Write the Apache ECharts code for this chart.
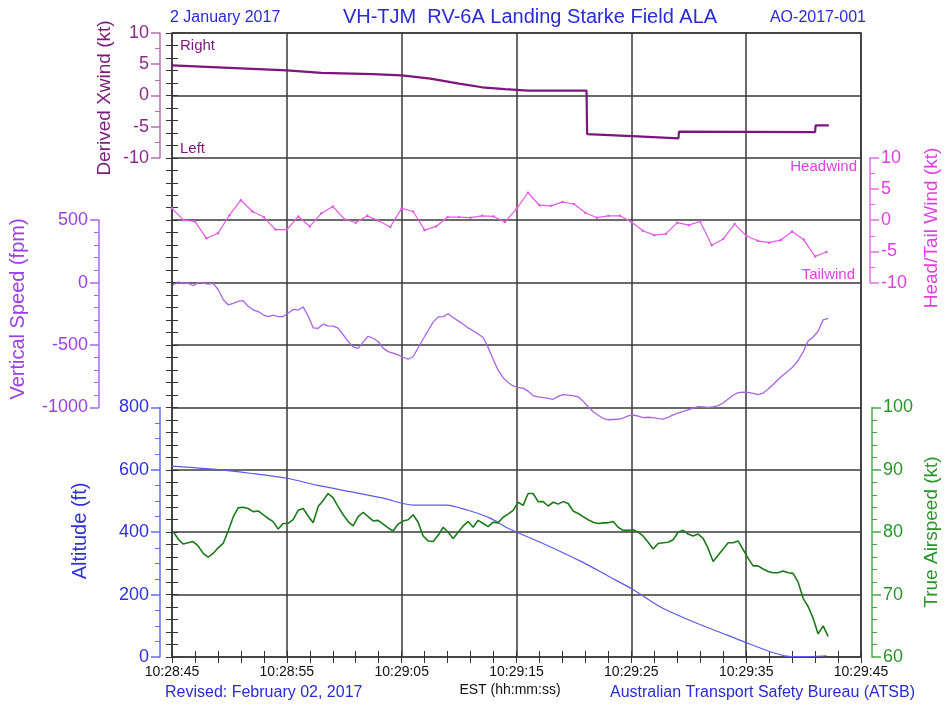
<!DOCTYPE html>
<html>
<head>
<meta charset="utf-8">
<title>VH-TJM RV-6A Landing Starke Field ALA</title>
<script src="https://cdn.jsdelivr.net/npm/echarts@6/dist/echarts.min.js"></script>
<style>html,body{margin:0;padding:0;background:#fff}</style>
</head>
<body>
<div id="main" style="width:947px;height:707px"></div>
<script>
// time is seconds after 10:28:45
var timeLabels = ['10:28:45', '10:28:55', '10:29:05', '10:29:15', '10:29:25', '10:29:35', '10:29:45'];

// derived crosswind (kt), + = right
var xwindT = [0, 5, 10, 13, 17.5, 20, 22.5, 25, 27, 29, 31, 36.1, 36.15, 41, 44.1, 44.15, 56, 56.05, 57.2];
var xwindV = [4.8, 4.4, 4.0, 3.6, 3.4, 3.2, 2.7, 1.9, 1.3, 1.0, 0.75, 0.75, -6.2, -6.6, -6.9, -5.8, -5.9, -4.8, -4.8];

// head/tail wind (kt), one value per second from t=0
var headwindV = [1.9, 0, -0.2, -2.9, -2.1, 0.8, 3.2, 1.4, 0.5, -1.5,
  -1.5, 0.6, -1.0, 1.1, 2.2, 0.2, -0.4, 0.7, -0.1, -1.1,
  1.9, 1.4, -1.6, -1.0, 0.5, 0.5, 0.4, 0.7, 0.6, -0.3,
  1.8, 4.4, 2.4, 2.3, 2.9, 2.6, 1.2, 0.4, 0.7, 0.7,
  -0.3, -1.7, -2.4, -2.2, -0.4, -0.8, -0.2, -4.0, -3.0, -0.6,
  -2.5, -3.3, -3.6, -3.2, -1.8, -3.1, -5.8, -5.1];

// vertical speed (fpm) and true airspeed (kt), sampled every 0.4354 s from t=0.1
var sampleStart = 0.1, sampleStep = 0.4354;
var vsV = [-19, 5, -8, -5, -25, 0, -5, -12, -6, -55,
  -135, -178, -166, -150, -145, -190, -218, -232, -258, -272,
  -260, -272, -272, -243, -215, -220, -195, -268, -362, -366,
  -333, -347, -348, -365, -418, -471, -516, -527, -477, -430,
  -446, -472, -525, -553, -566, -579, -598, -614, -594, -522,
  -452, -384, -317, -275, -273, -250, -280, -307, -334, -363,
  -386, -412, -440, -520, -614, -702, -762, -800, -828, -840,
  -846, -870, -905, -916, -922, -927, -935, -912, -897, -901,
  -906, -915, -950, -995, -1035, -1063, -1087, -1099, -1097, -1095,
  -1085, -1068, -1061, -1069, -1082, -1079, -1082, -1090, -1094, -1080,
  -1060, -1045, -1031, -1020, -1005, -993, -995, -999, -996, -986,
  -965, -933, -903, -882, -877, -879, -887, -898, -885, -853,
  -817, -776, -740, -708, -674, -624, -555, -468, -436, -390,
  -298, -286];
var tasV = [80.1, 78.9, 78.1, 78.3, 78.5, 77.8, 76.6, 76.0, 76.6, 77.5,
  78.2, 80.2, 82.4, 83.9, 84.0, 83.8, 83.3, 83.4, 82.8, 82.2,
  81.7, 80.5, 81.4, 81.4, 82.0, 83.5, 83.8, 82.6, 81.5, 84.1,
  85.1, 86.2, 85.5, 84.1, 82.8, 81.7, 81.0, 82.5, 83.2, 82.5,
  81.8, 81.9, 81.3, 80.7, 80.2, 81.3, 81.8, 82.0, 82.8, 81.6,
  79.4, 78.6, 78.5, 79.5, 80.8, 80.0, 79.0, 80.0, 81.0, 81.7,
  80.8, 81.9, 81.4, 80.9, 81.6, 81.5, 82.4, 82.9, 83.5, 84.8,
  84.3, 86.2, 86.2, 84.9, 84.9, 84.2, 84.8, 84.5, 84.9, 84.6,
  83.4, 83.0, 82.5, 82.0, 81.6, 81.4, 81.5, 81.5, 81.7, 80.8,
  80.3, 80.3, 80.4, 80.0, 79.4, 78.4, 77.3, 78.2, 78.3, 78.4,
  78.8, 80.0, 80.3, 79.7, 79.4, 79.7, 79.0, 77.4, 75.3, 76.3,
  77.3, 78.3, 78.3, 78.6, 77.2, 75.8, 74.6, 74.6, 74.1, 73.7,
  73.5, 73.5, 73.8, 73.5, 73.4, 72.0, 69.4, 68.1, 66.2, 63.7,
  65.0, 63.3];

// altitude (ft)
var altT = [0, 3.6, 6.8, 10, 12.6, 15.5, 18.4, 21, 23.9, 25.7, 27.7, 29.4, 32.3, 35.7, 38.1, 40.2, 42.5, 45.7, 48.3, 50, 52.1, 53.5, 54.7, 57];
var altV = [612, 602, 589, 573, 551, 530, 509, 487, 487, 471, 445, 410, 364, 305, 257, 215, 161, 108, 71, 46, 17, 3, 1, 4];

function pairs(ts, vs) {
    return vs.map(function (v, i) { return [ts[i], v]; });
}
function sampled(vs) {
    return vs.map(function (v, i) { return [sampleStart + i * sampleStep, v]; });
}

var FONT = '"Liberation Sans", Arial, sans-serif';
var L = 172, R = 86;

function sideAxis(grid, pos, offset, min, max, step, minor, lineColor, labelColor) {
    return {
        gridIndex: grid, type: 'value', position: pos, offset: offset,
        min: min, max: max, interval: step,
        axisLine: {show: true, onZero: false, lineStyle: {color: lineColor, width: 1.5}},
        axisTick: {show: true, length: 9, lineStyle: {color: lineColor, width: 1.5}},
        minorTick: {show: true, splitNumber: minor, length: 5, lineStyle: {color: lineColor}},
        axisLabel: {color: labelColor, fontSize: 18, fontFamily: FONT, margin: 11,
            formatter: function (v) { return String(v); }},
        splitLine: {show: false}
    };
}
function hiddenX(grid) {
    return {gridIndex: grid, type: 'value', min: 0, max: 60, show: false};
}
function txt(x, y, text, color, size, align, rot) {
    return {
        type: 'text', x: x, y: y, rotation: rot || 0, silent: true,
        style: {text: text, fill: color, font: size + 'px ' + FONT,
            textAlign: align || 'left', textVerticalAlign: 'middle'}
    };
}

var myChart = echarts.init(document.getElementById('main'));
var option = {
    animation: false,
    backgroundColor: '#fff',
    grid: [
        {left: L, right: R, top: 33, bottom: 50, show: true, borderColor: '#3a3a3a', borderWidth: 1.5},
        {left: L, right: R, top: 33, height: 124.8},
        {left: L, right: R, top: 157.8, height: 124.8},
        {left: L, right: R, top: 220.2, height: 187.2},
        {left: L, right: R, top: 407.4, height: 249.6}
    ],
    xAxis: [
        {
            gridIndex: 0, type: 'value', position: 'bottom', min: 0, max: 60, interval: 10,
            axisLine: {show: false},
            axisTick: {show: true, inside: true, length: 6, lineStyle: {color: '#333'}},
            minorTick: {show: true, splitNumber: 5, length: 6, lineStyle: {color: '#333'}},
            splitLine: {show: true, lineStyle: {color: '#3a3a3a', width: 1.5}},
            axisLabel: {color: '#111', fontSize: 14, fontFamily: FONT, margin: 8,
                formatter: function (v) { return timeLabels[Math.round(v / 10)]; }}
        },
        {
            gridIndex: 0, type: 'value', position: 'top', min: 0, max: 60, interval: 10,
            axisLine: {show: false},
            axisTick: {show: true, inside: true, length: 6, lineStyle: {color: '#333'}},
            minorTick: {show: true, splitNumber: 5, length: 6, lineStyle: {color: '#333'}},
            axisLabel: {show: false}, splitLine: {show: false}
        },
        hiddenX(1), hiddenX(2), hiddenX(3), hiddenX(4)
    ],
    yAxis: [
        {
            gridIndex: 0, type: 'value', position: 'left', min: 0, max: 10, interval: 1,
            axisLine: {show: false},
            axisTick: {show: true, inside: true, length: 6, lineStyle: {color: '#333'}},
            minorTick: {show: true, splitNumber: 5, length: 6, lineStyle: {color: '#333'}},
            axisLabel: {show: false},
            splitLine: {show: true, lineStyle: {color: '#3a3a3a', width: 1.5}}
        },
        {
            gridIndex: 0, type: 'value', position: 'right', min: 0, max: 10, interval: 1,
            axisLine: {show: false},
            axisTick: {show: true, inside: true, length: 6, lineStyle: {color: '#333'}},
            minorTick: {show: true, splitNumber: 5, length: 6, lineStyle: {color: '#333'}},
            axisLabel: {show: false}, splitLine: {show: false}
        },
        sideAxis(1, 'left', 12, -10, 10, 5, 2, '#b070b0', '#8a2a8a'),
        sideAxis(2, 'right', 9, -10, 10, 5, 2, '#e070e0', '#e23ee2'),
        sideAxis(3, 'left', 73, -1000, 500, 500, 5, '#a868e8', '#9a40e6'),
        sideAxis(4, 'left', 12, 0, 800, 200, 4, '#6a6ae6', '#2f2fe0'),
        sideAxis(4, 'right', 11, 60, 100, 10, 5, '#4aa84a', '#27952a')
    ],
    series: [
        {
            name: 'Derived Xwind', type: 'line', xAxisIndex: 2, yAxisIndex: 2,
            data: pairs(xwindT, xwindV), showSymbol: false,
            lineStyle: {color: '#7d157d', width: 2.2}
        },
        {
            name: 'Head/Tail Wind', type: 'line', xAxisIndex: 3, yAxisIndex: 3,
            data: headwindV.map(function (v, i) { return [i, v]; }),
            symbol: 'circle', symbolSize: 2.5,
            itemStyle: {color: '#e45ae4'}, lineStyle: {color: '#e45ae4', width: 1.2}
        },
        {
            name: 'Vertical Speed', type: 'line', xAxisIndex: 4, yAxisIndex: 4, clip: false,
            data: sampled(vsV), showSymbol: false,
            lineStyle: {color: '#a864e4', width: 1.3}
        },
        {
            name: 'Altitude', type: 'line', xAxisIndex: 5, yAxisIndex: 5,
            data: pairs(altT, altV), showSymbol: false, smooth: 0.3,
            lineStyle: {color: '#5a5ae8', width: 1.2}
        },
        {
            name: 'True Airspeed', type: 'line', xAxisIndex: 5, yAxisIndex: 6,
            data: sampled(tasV), showSymbol: false,
            lineStyle: {color: '#1a7a1a', width: 1.6}
        }
    ],
    graphic: [
        txt(170, 18, '2 January 2017', '#2a2ad8', 16),
        txt(530, 17, 'VH-TJM  RV-6A Landing Starke Field ALA', '#2a2ad8', 20, 'center'),
        txt(866, 18, 'AO-2017-001', '#2a2ad8', 16, 'right'),
        txt(180, 46, 'Right', '#7a1a7a', 15),
        txt(180, 149, 'Left', '#7a1a7a', 15),
        txt(857, 167, 'Headwind', '#e23ee2', 15, 'right'),
        txt(855, 275, 'Tailwind', '#e23ee2', 15, 'right'),
        txt(105, 98, 'Derived Xwind (kt)', '#7a1a7a', 19, 'center', Math.PI / 2),
        txt(18, 309, 'Vertical Speed (fpm)', '#9a40e6', 20, 'center', Math.PI / 2),
        txt(80, 531, 'Altitude (ft)', '#2f2fe0', 20, 'center', Math.PI / 2),
        txt(932, 228, 'Head/Tail Wind (kt)', '#e23ee2', 19, 'center', Math.PI / 2),
        txt(932, 532, 'True Airspeed (kt)', '#27952a', 19, 'center', Math.PI / 2),
        txt(510, 690, 'EST (hh:mm:ss)', '#111', 14, 'center'),
        txt(165, 693, 'Revised: February 02, 2017', '#2a2ad8', 16, 'left'),
        txt(915, 693, 'Australian Transport Safety Bureau (ATSB)', '#2a2ad8', 16, 'right')
    ]
};
myChart.setOption(option);
</script>
</body>
</html>
